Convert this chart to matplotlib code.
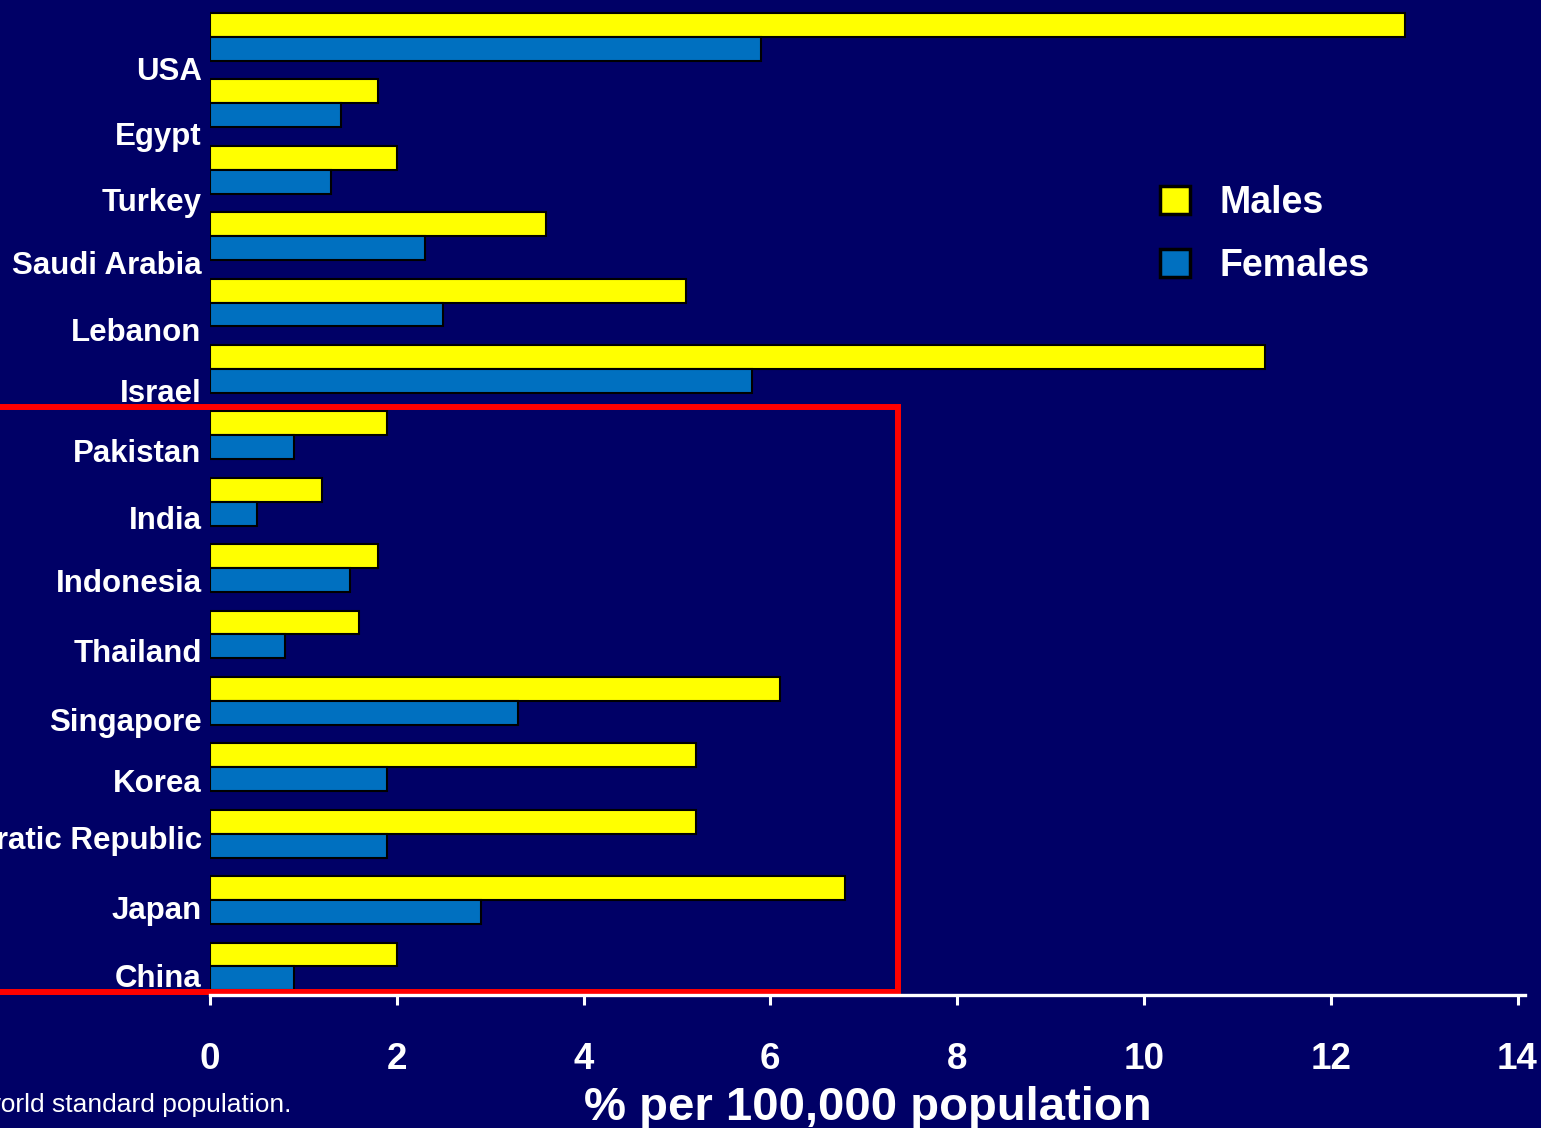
import numpy as np
import matplotlib
matplotlib.use("Agg")
import matplotlib.pyplot as plt
from matplotlib.patches import Rectangle

plt.rcParams['font.family'] = ['Liberation Sans', 'DejaVu Sans']
plt.rcParams['font.weight'] = 'bold'

# Incidence per 100,000, males vs females
countries = ['USA', 'Egypt', 'Turkey', 'Saudi Arabia', 'Lebanon', 'Israel',
             'Pakistan', 'India', 'Indonesia', 'Thailand', 'Singapore', 'Korea',
             "Lao People's Democratic Republic", 'Japan', 'China']
males = [12.8, 1.8, 2.0, 3.6, 5.1, 11.3, 1.9, 1.2, 1.8, 1.6, 6.1, 5.2, 5.2, 6.8, 2.0]
females = [5.9, 1.4, 1.3, 2.3, 2.5, 5.8, 0.9, 0.5, 1.5, 0.8, 3.3, 1.9, 1.9, 2.9, 0.9]
xticks = [0, 2, 4, 6, 8, 10, 12, 14]

# where each country name sits, measured in category units below its bar pair
label_offsets = [0.47, 0.46, 0.45, 0.39, 0.40, 0.32, 0.23, 0.24, 0.19,
                 0.24, 0.28, 0.20, 0.06, 0.11, 0.14]

bg = '#000066'
yellow = '#FFFF00'
blue = '#0070C0'

fig = plt.figure(figsize=(15.41, 11.28), dpi=100, facecolor=bg)
ax = fig.add_axes([210 / 1541, 1 - 995 / 1128, 1315 / 1541, 995 / 1128])
ax.set_facecolor(bg)

y = np.arange(len(countries))
h = 0.36
ax.barh(y - h / 2, males, height=h, color=yellow, edgecolor='black', linewidth=1.5, label='Males')
ax.barh(y + h / 2, females, height=h, color=blue, edgecolor='black', linewidth=1.5, label='Females')

ax.set_xlim(0, 14.08)
ax.set_ylim(14.43, -0.557)

ax.set_yticks(y + np.array(label_offsets))
ax.set_yticklabels(countries, fontsize=22.5, color='white')
ax.tick_params(axis='y', length=0, pad=6)

ax.set_xticks(xticks)
ax.set_xticklabels([str(t) for t in xticks], fontsize=26.5, color='white')
ax.tick_params(axis='x', direction='out', length=7, width=2.2, color='white', pad=27)
ax.set_xlabel('% per 100,000 population', fontsize=34, fontweight='bold',
              color='white', labelpad=6)

for s in ['top', 'right', 'left']:
    ax.spines[s].set_visible(False)
ax.spines['bottom'].set_color('white')
ax.spines['bottom'].set_linewidth(2.4)
ax.spines['bottom'].set_zorder(5)

# highlight box around the Asian countries
box = Rectangle((-3.0, 5.58), 10.37, 14.43 - 5.58 - 0.04, fill=False,
                edgecolor='#FF0000', linewidth=4.3, clip_on=False, zorder=4)
ax.add_patch(box)

leg = ax.legend(loc='upper left', bbox_to_anchor=(1160 / 1541, 1 - 185 / 1128),
                bbox_transform=fig.transFigure, frameon=False, fontsize=27,
                handlelength=0.8, handleheight=0.8, handletextpad=0.8,
                labelspacing=0.72, borderpad=0, borderaxespad=0)
for t in leg.get_texts():
    t.set_color('white')
for p in leg.get_patches():
    p.set_linewidth(2.5)

fig.text(291 / 1541, 1 - 1105 / 1128, 'Age-standardized to the world standard population.',
         ha='right', va='center', fontsize=19, fontweight='normal', color='white')

fig.savefig('out.png', dpi=100, facecolor=bg)
